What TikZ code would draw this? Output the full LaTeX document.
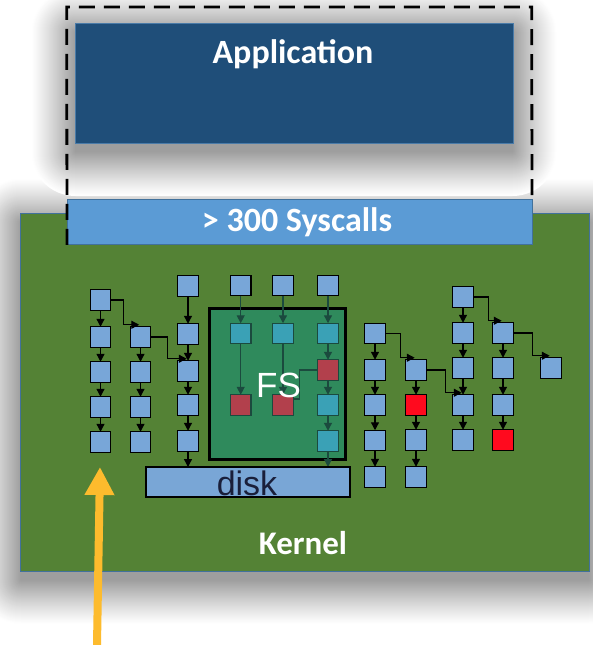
\documentclass[tikz,border=0pt]{standalone}
\usepackage{fontspec}
\setmainfont{Carlito}
\newfontfamily\arialfont{Liberation Sans}
\usetikzlibrary{arrows.meta}

\definecolor{appblue}{HTML}{1F4E79}
\definecolor{appedge}{HTML}{4A7BA8}
\definecolor{sysblue}{HTML}{5B9BD5}
\definecolor{sysedge}{HTML}{41719C}
\definecolor{kgreen}{HTML}{548235}
\definecolor{kedge}{HTML}{41719C}
\definecolor{sqblue}{HTML}{78A6D8}
\definecolor{sqred}{HTML}{FF0A1E}
\definecolor{fsgreen}{HTML}{2F8A5C}
\definecolor{fsteal}{HTML}{3AA1B6}
\definecolor{fsred}{HTML}{B2404C}
\definecolor{fsline}{HTML}{1B4A3E}
\definecolor{diskblue}{HTML}{79A6D6}
\definecolor{arrowgold}{HTML}{FDBB2D}
\definecolor{disktext}{HTML}{1A1F3A}

\tikzset{
  box/.style={inner sep=0pt, outer sep=0pt},
  sq/.style={box, draw=black, line width=1.3pt, fill=sqblue, minimum size=20.5pt},
  redsq/.style={sq, fill=sqred},
  fssq/.style={sq, draw=fsline, fill=fsteal},
  fsredsq/.style={fssq, fill=fsred},
  link/.style={line width=1.3pt, -{Triangle[width=8pt,length=8pt]}},
  fslink/.style={link, draw=fsline, fill=fsline},
  bigtext/.style={anchor=base, text=white, font=\bfseries\fontsize{34}{36}\selectfont},
}

% soft drop shadow under a named node: nested grey layers, lightest outside
\newcommand\dropshade[2]{%
  \foreach \r in {44,43,...,0}{%
    \pgfmathsetmacro\shadep{38*(1-\r/44)^1.15}%
    \fill[black!\shadep!white, rounded corners=\r pt+0.5pt]
      ([xshift=-\r pt, yshift=\r pt-#2]#1.north west) rectangle
      ([xshift=\r pt, yshift=-\r pt-#2]#1.south east);
  }%
}

\begin{document}
\begin{tikzpicture}[x=1pt,y=-1pt]
\fill[white] (0,0) rectangle (592,645);
\useasboundingbox (0,0) rectangle (592,645);

% outlines of the two layers (used for their shadows)
\path (294,83) node[box, minimum width=438pt, minimum height=120pt] (app) {};
\path (304.85,392.25) node[box, minimum width=568.3pt, minimum height=358.5pt] (kernel) {};
\dropshade{kernel}{9pt}
\dropshade{app}{9pt}

% user space
\node[box, fill=appblue, draw=appedge, line width=0.8pt,
      minimum width=438pt, minimum height=120pt] at (app) {};
\node[bigtext] (apptext) at (293,63) {Application};

% kernel
\node[box, fill=kgreen, draw=kedge, line width=0.8pt,
      minimum width=568.3pt, minimum height=358.5pt] at (kernel) {};
\node[bigtext, font=\bfseries\fontsize{33}{36}\selectfont] (kerneltext) at (303,554) {Kernel};

% syscall interface
\node[box, fill=sysblue, draw=sysedge, line width=0.8pt,
      minimum width=465pt, minimum height=45.7pt] (sys) at (299.5,222) {};
\node[bigtext] (systext) at (297,231) {> 300 Syscalls};

\draw[black, line width=2.8pt, dash pattern=on 16pt off 9pt]
  (sys.south west) -- (66.7,7) -- (531.7,7) -- (sys.north east);

% file system block
\node[box, fill=fsgreen, draw=black, line width=3pt,
      minimum width=136pt, minimum height=151pt] (fs) at (277,383.5) {};

% left columns
\node[sq] (a1) at (100.5,300) {};
\node[sq] (a2) at (100.5,337) {};
\node[sq] (a3) at (100.5,372) {};
\node[sq] (a4) at (100.5,407) {};
\node[sq] (a5) at (100.5,442) {};

\node[sq] (b1) at (140.5,337) {};
\node[sq] (b2) at (140.5,372) {};
\node[sq] (b3) at (140.5,407) {};
\node[sq] (b4) at (140.5,442) {};

\node[sq] (c1) at (188,286) {};
\node[sq] (c2) at (188,334) {};
\node[sq] (c3) at (188,371) {};
\node[sq] (c4) at (188,405) {};
\node[sq] (c5) at (188,441) {};

% columns entering the file system
\node[sq] (f1t) at (240.7,285.5) {};
\node[sq] (f2t) at (283,285.5) {};
\node[sq] (f3t) at (328,285.5) {};
\node[fssq] (f1a) at (240.7,333.5) {};
\node[fsredsq] (f1b) at (240.7,405) {};
\node[fssq] (f2a) at (283,333.5) {};
\node[fsredsq] (f2b) at (283,405) {};
\node[fssq] (f3a) at (328,333.5) {};
\node[fsredsq] (f3b) at (328,370) {};
\node[fssq] (f3c) at (328,405) {};
\node[fssq] (f3d) at (328,441) {};

% right columns
\node[sq] (g1) at (375,333.5) {};
\node[sq] (g2) at (375,370) {};
\node[sq] (g3) at (375,405) {};
\node[sq] (g4) at (375,440.5) {};
\node[sq] (g5) at (375,477) {};

\node[sq] (h1) at (416,370) {};
\node[redsq] (h2) at (416,405) {};
\node[sq] (h3) at (416,440) {};
\node[sq] (h4) at (416,477) {};

\node[sq] (i1) at (463,297) {};
\node[sq] (i2) at (463,333) {};
\node[sq] (i3) at (463,368) {};
\node[sq] (i4) at (463,405) {};
\node[sq] (i5) at (463,440) {};

\node[sq] (j1) at (503,333) {};
\node[sq] (j2) at (503,368) {};
\node[sq] (j3) at (503,405) {};
\node[redsq] (j4) at (503,440) {};

\node[sq] (k1) at (551,368) {};

% straight call chains
\foreach \u/\v in {a1/a2,a2/a3,a3/a4,a4/a5, b1/b2,b2/b3,b3/b4,
                   c1/c2,c2/c3,c3/c4,c4/c5,
                   g1/g2,g2/g3,g3/g4,g4/g5, h1/h2,h2/h3,h3/h4,
                   i1/i2,i2/i3,i3/i4,i4/i5, j1/j2,j2/j3,j3/j4}
  \draw[link] (\u) -- (\v);

\foreach \u/\v in {f1t/f1a,f2t/f2a,f3t/f3a,f1a/f1b,f2a/f2b,f3a/f3b,f3b/f3c,f3c/f3d}
  \draw[fslink] (\u) -- (\v);

% branching calls
\draw[link] (a1.east) -- ++(12.5,0) |- ([xshift=9pt,yshift=2pt]b1.north west);
\draw[link] (b1.east) -- ++(17,0)   |- ([xshift=9pt,yshift=2pt]c3.north west);
\draw[link] (g1.east) -- ++(15,0)   |- ([xshift=9pt,yshift=2pt]h1.north west);
\draw[link] (h1.east) -- ++(19,0)   |- ([xshift=9pt,yshift=2pt]i4.north west);
\draw[link] (i1.east) -- ++(15,0)   |- ([xshift=9pt,yshift=2pt]j1.north west);
\draw[link] (j1.east) -- ++(19,0)   |- ([xshift=9pt,yshift=2pt]k1.north west);
\draw[fsline, line width=1.3pt] (f3b.west) -- ++(-18,0) |- ([yshift=6pt]f2b.east);

% disk
\draw[link] (c5) -- (c5 |- 0,467);
\draw[fslink] (f3d) -- (f3d |- 0,467);
\node[box, fill=diskblue, draw=black, line width=1.5pt,
      minimum width=204pt, minimum height=30pt] (disk) at (248,482) {};
\node[anchor=base, text=disktext, font=\arialfont\fontsize{34}{36}\selectfont] (disktext) at (247,495) {disk};

\node[anchor=base, text=white, font=\arialfont\fontsize{35}{38}\selectfont] (fstext) at (278.5,397) {FS};

% entry point arrow
\coordinate (gfoot) at (97,645);
\coordinate (gtip) at (100,467);
\draw[arrowgold, line width=8pt, -{Triangle[width=28pt,length=28pt]}] (gfoot) -- (gtip);
\end{tikzpicture}
\end{document}
